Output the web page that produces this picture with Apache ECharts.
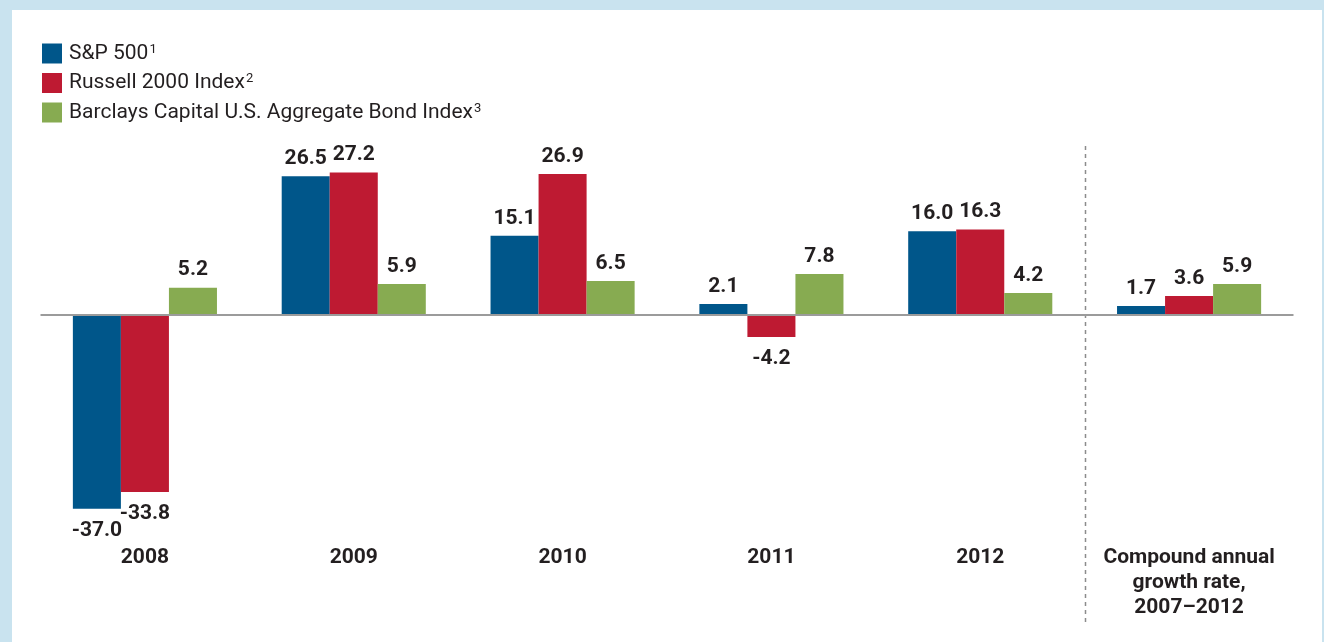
<!DOCTYPE html>
<html>
<head>
<meta charset="utf-8">
<script src="https://cdn.jsdelivr.net/npm/echarts@6/dist/echarts.min.js"></script>
<style>
  html, body { margin: 0; padding: 0; }
  body { width: 1324px; height: 642px; background: #c9e3ef; position: relative; overflow: hidden; }
  #chart { position: absolute; left: 12px; top: 10px; width: 1310px; height: 632px; background: #ffffff; }
</style>
</head>
<body>
<div id="chart"></div>
<script>
// data
var categories = ['2008', '2009', '2010', '2011', '2012', 'Compound annual\ngrowth rate,\n2007\u20132012'];
var seriesNames = ['S&P 500', 'Russell 2000 Index', 'Barclays Capital U.S. Aggregate Bond Index'];
var footnotes = ['1', '2', '3'];
var sp500 = [-37.0, 26.5, 15.1, 2.1, 16.0, 1.7];
var russell2000 = [-33.8, 27.2, 26.9, -4.2, 16.3, 3.6];
var barclaysAgg = [5.2, 5.9, 6.5, 7.8, 4.2, 5.9];
var colors = ['#00568a', '#be1a32', '#87ab51'];

var FONT = "Roboto, 'DejaVu Sans Condensed', sans-serif";
var TEXT = '#231f20';

// negative bars get their label underneath
function toData(arr) {
    return arr.map(function (v) {
        if (v < 0) {
            return { value: v, label: { position: 'bottom', verticalAlign: 'top', distance: 11 } };
        }
        return v;
    });
}

function makeSeries(name, arr, idx) {
    var s = {
        name: name,
        type: 'bar',
        data: toData(arr),
        barGap: 0,
        barCategoryGap: '31%',
        itemStyle: { color: colors[idx] },
        label: {
            show: true,
            position: 'top',
            distance: 7,
            fontFamily: FONT,
            fontWeight: 'bold',
            fontSize: 21,
            color: TEXT,
            formatter: function (p) { return p.value.toFixed(1); }
        }
    };
    if (idx === 0) {
        // zero line
        s.markLine = {
            silent: true,
            symbol: 'none',
            label: { show: false },
            lineStyle: { color: '#9b9b9b', width: 2, type: 'solid' },
            data: [{ yAxis: 0 }]
        };
    }
    return s;
}

var chart = echarts.init(document.getElementById('chart'));
var option = {
    animation: false,
    legend: {
        orient: 'vertical',
        left: 30,
        top: 33,
        padding: 0,
        itemWidth: 20,
        itemHeight: 20,
        itemGap: 8.5,
        icon: 'rect',
        data: seriesNames,
        textStyle: {
            fontFamily: FONT,
            fontSize: 21,
            color: TEXT,
            lineHeight: 20,
            padding: [0, 0, 0, 2],
            rich: {
                sup: { fontFamily: FONT, fontSize: 13, color: TEXT, lineHeight: 20, padding: [0, 0, 8, 1] }
            }
        },
        formatter: function (name) {
            return name + '{sup|' + footnotes[seriesNames.indexOf(name)] + '}';
        }
    },
    grid: {
        left: 28.5,
        right: 28.5,
        top: 136,
        bottom: 20
    },
    xAxis: {
        type: 'category',
        data: categories,
        axisLine: { show: false, onZero: false },
        axisTick: { show: false },
        splitLine: { show: false },
        axisLabel: {
            margin: -77,
            verticalAlign: 'top',
            fontFamily: FONT,
            fontWeight: 'bold',
            fontSize: 21,
            lineHeight: 25,
            color: TEXT,
            interval: 0
        }
    },
    yAxis: {
        type: 'value',
        min: -58.6,
        max: 32.25,
        show: false,
        splitLine: { show: false }
    },
    series: [
        makeSeries(seriesNames[0], sp500, 0),
        makeSeries(seriesNames[1], russell2000, 1),
        makeSeries(seriesNames[2], barclaysAgg, 2)
    ]
};
chart.setOption(option);

// dashed separator between the last year and the growth-rate group
var rect = chart.getModel().getComponent('grid').coordinateSystem.getRect();
var xa = chart.convertToPixel({ xAxisIndex: 0 }, 4);
var xb = chart.convertToPixel({ xAxisIndex: 0 }, 5);
var sepX = Math.round((xa + xb) / 2) + 0.5;
chart.setOption({
    graphic: [{
        type: 'line',
        silent: true,
        shape: { x1: sepX, y1: rect.y, x2: sepX, y2: rect.y + rect.height },
        style: { stroke: '#8c8c8c', lineWidth: 1.5, lineDash: [4, 4] }
    }]
});
</script>
</body>
</html>
